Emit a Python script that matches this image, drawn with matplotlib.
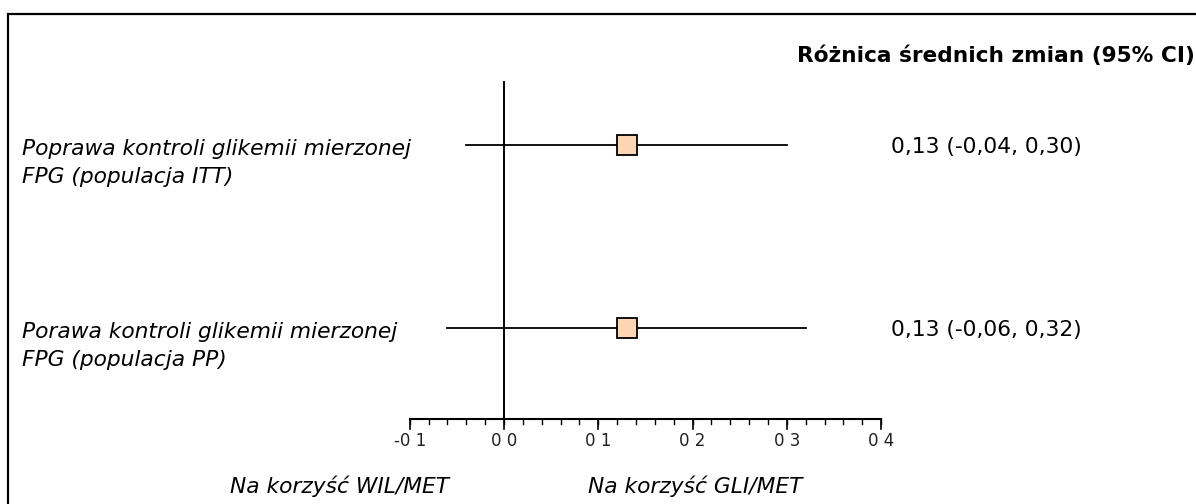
import numpy as np
import matplotlib
matplotlib.use("Agg")
import matplotlib.pyplot as plt
from matplotlib.patches import Rectangle
from matplotlib import font_manager

# ---- data ----
row_labels = ["Poprawa kontroli glikemii mierzonej\nFPG (populacja ITT)",
              "Porawa kontroli glikemii mierzonej\nFPG (populacja PP)"]
estimates = [0.13, 0.13]
ci_low = [-0.04, -0.06]
ci_high = [0.30, 0.32]
ci_text = ["0,13 (-0,04, 0,30)", "0,13 (-0,06, 0,32)"]
header = "Różnica średnich zmian (95% CI)"
tick_values = [-0.1, 0.0, 0.1, 0.2, 0.3, 0.4]
tick_labels = ["-0 1", "0 0", "0 1", "0 2", "0 3", "0 4"]
favour_left = "Na korzyść WIL/MET"
favour_right = "Na korzyść GLI/MET"

# ---- layout (pixels) ----
W, H = 1196, 504
x0_px, px_per_unit = 504, 943.0
row_y = [145, 328]
axis_y = 419

fig = plt.figure(figsize=(W / 100, H / 100), dpi=100)
ax = fig.add_axes([0, 0, 1, 1])
ax.set_xlim(-x0_px / px_per_unit, (W - x0_px) / px_per_unit)
ax.set_ylim(H, 0)
ax.axis("off")

# frame (left and top borders only visible)
fig.patches.append(Rectangle((8 / W, -0.1), 1.2, 1.1 - 14 / H, transform=fig.transFigure,
                             fill=False, lw=1.6, ec="black"))

# zero line
ax.plot([0, 0], [81, axis_y], color="black", lw=1.4, solid_capstyle="butt")

# CIs and estimates
for y, e, lo, hi in zip(row_y, estimates, ci_low, ci_high):
    ax.plot([lo, hi], [y, y], color="black", lw=1.3)
    ax.plot([e], [y], marker="s", ms=14, mfc="#FCD5B4", mec="black", mew=1.3, zorder=3)

# scale axis
ax.plot([tick_values[0], tick_values[-1]], [axis_y, axis_y], color="black", lw=1.5)
minor = np.arange(tick_values[0], tick_values[-1] + 1e-9, 0.02)
for m in minor:
    ax.plot([m, m], [axis_y, axis_y + 5], color="black", lw=1.0)
for t in tick_values:
    ax.plot([t, t], [axis_y, axis_y + 10], color="black", lw=1.2)

avail = {f.name for f in font_manager.fontManager.ttflist}
narrow = "Liberation Sans Narrow" if "Liberation Sans Narrow" in avail else "DejaVu Sans"
for t, lab in zip(tick_values, tick_labels):
    ax.text(t, 441, lab, ha="center", va="center", fontsize=12, family=narrow,
            color="#222222")

# texts
fs = 15.7
for y, lab, ct in zip(row_y, row_labels, ci_text):
    fig.text(22 / W, 1 - (y + 18) / H, lab, ha="left", va="center", fontsize=fs,
             style="italic", family="DejaVu Sans", linespacing=1.55)
    fig.text(891 / W, 1 - (y + 2) / H, ct, ha="left", va="center", fontsize=fs,
             family="DejaVu Sans")

fig.text(797 / W, 1 - 56 / H, header, ha="left", va="center", fontsize=15.6,
         weight="bold", family="DejaVu Sans")

fig.text(230 / W, 1 - 486 / H, favour_left, ha="left", va="center", fontsize=fs,
         style="italic", family="DejaVu Sans")
fig.text(588 / W, 1 - 486 / H, favour_right, ha="left", va="center", fontsize=fs,
         style="italic", family="DejaVu Sans")

fig.savefig("out.png", dpi=100)
